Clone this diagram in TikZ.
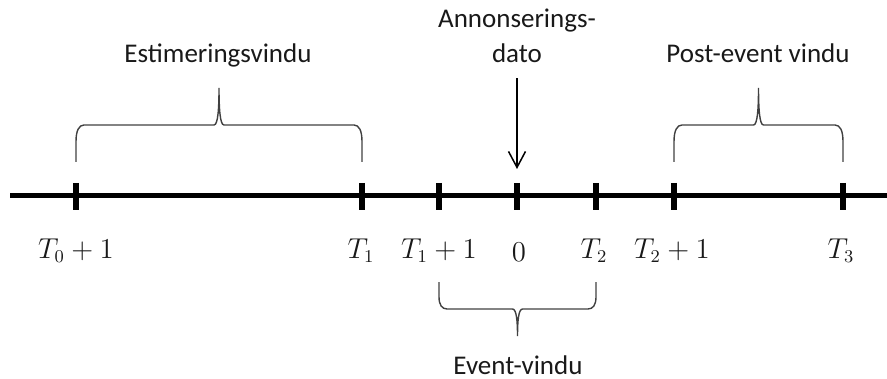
\documentclass[tikz,border=0pt]{standalone}
\usepackage{amsmath}
\usepackage{fontspec}
\setmainfont{Carlito}
\usepackage{tikz}
\usetikzlibrary{arrows.meta,calc}

\begin{document}
\begin{tikzpicture}[x=0.5pt,y=0.5pt,>={Straight Barb[length=8pt,width=8.5pt]},
  every node/.style={font=\fontsize{13.5}{17.5}\selectfont,text=black!90},
  klamme/.style={line width=0.7pt,black!75}]
\useasboundingbox (0,0) rectangle (887,-379);
% tidslinje
\draw[line width=2.5pt](10,-196)--(887,-196);
\foreach \x/\n in {76/ta,362/tb,439/tc,517/td,596/te,674/tf,843/tg}{
  \coordinate (\n) at (\x,-196);
  \draw[line width=3pt](\x,-183)--(\x,-210);}
% merkelapper under aksen
\node[anchor=base](lta) at (76,-258){$T_0+1$};
\node[anchor=base](ltb) at (361,-258){$T_1$};
\node[anchor=base](ltc) at (439,-258){$T_1+1$};
\node[anchor=base](ltd) at (519,-261){$0$};
\node[anchor=base](lte) at (594,-258){$T_2$};
\node[anchor=base](ltf) at (672,-258){$T_2+1$};
\node[anchor=base](ltg) at (841,-258){$T_3$};
% klammer
\foreach \a/\b/\y/\h in {76/362/-162/37,674/843/-162/37,439/596/-282/-27}
  \draw[klamme](\a,\y)--++(0,0.55*\h)..controls +(0,0.3*\h) and +(-5,0)..(\a+8,\y+\h)
    --({(\a+\b)/2-5},\y+\h)..controls +(4,0) and +(0,-0.55*\h)..({(\a+\b)/2},\y+2*\h)
    ..controls +(0,-0.55*\h) and +(-4,0)..({(\a+\b)/2+5},\y+\h)
    --(\b-8,\y+\h)..controls +(5,0) and +(0,0.3*\h)..(\b,\y+0.55*\h)--(\b,\y);
\node[anchor=base](estim) at (218,-63){Estimeringsvindu};
\node[anchor=base](postev) at (758,-63){Post-event vindu};
\node[anchor=base,inner sep=1pt](eventv) at (518,-374){Event-vindu};
% annonseringsdato
\node[align=center,anchor=base](annons) at (517,-63){Annonserings-\\dato};
\coordinate (pil) at (517,-169);
\draw[->,line width=0.75pt,shorten <=4pt](annons)--(pil);
\end{tikzpicture}
\end{document}
